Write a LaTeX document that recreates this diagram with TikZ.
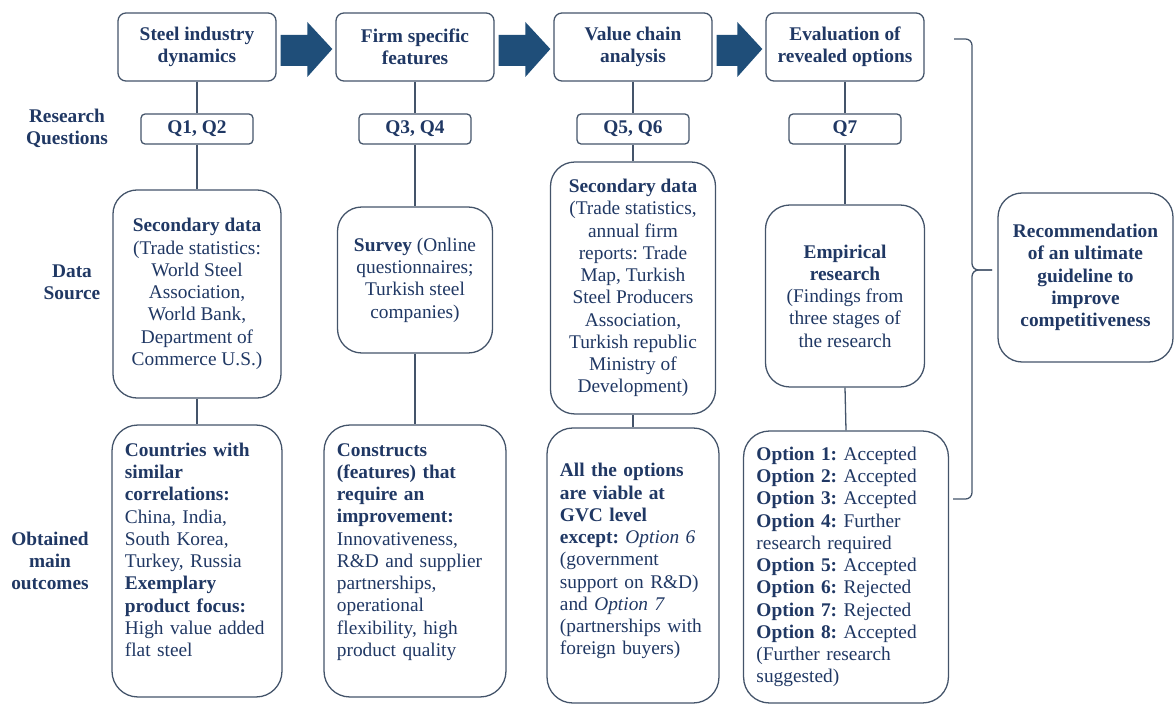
\documentclass[tikz,border=0pt]{standalone}
\usepackage{fontspec}
\setmainfont{Liberation Serif}
\usetikzlibrary{calc}
\frenchspacing

\definecolor{navy}{HTML}{203864}
\definecolor{frame}{HTML}{44546A}
\definecolor{flow}{HTML}{1F4E79}

\begin{document}
\begin{tikzpicture}[
  x=0.62pt, y=-0.62pt,
  every node/.style={text=navy, font=\fontsize{12pt}{13.8pt}\selectfont},
  box/.style={draw=frame, line width=0.8pt, fill=white, align=center},
  stage/.style={box, rounded corners=5pt, minimum width=98pt, minimum height=42.2pt,
    font=\fontsize{12pt}{13.8pt}\selectfont\bfseries},
  qbox/.style={box, rounded corners=2.5pt, minimum width=69.4pt, minimum height=18.6pt,
    inner sep=0pt, font=\fontsize{12pt}{13.8pt}\selectfont\bfseries},
  source/.style={box, rounded corners=15pt},
  outcome/.style={box, rounded corners=16pt, align=left, inner xsep=8pt},
  rowlabel/.style={align=center, font=\fontsize{12pt}{13.8pt}\selectfont\bfseries},
  link/.style={draw=frame, line width=0.8pt},
  blockarrow/.style={fill=flow}
]
  \useasboundingbox (0,0) rectangle (1175,705);

  % row labels
  \node[rowlabel] (lblq) at (67,128) {Research\\Questions};
  \node[rowlabel] (lbls) at (72,282) {Data\\Source};
  \node[rowlabel] (lblo) at (50,561) {Obtained\\main\\outcomes};

  % stages
  \node[stage] (top1) at (197,47) {Steel industry\\dynamics};
  \node[stage] (top2) at (415,47) {Firm specific\\features};
  \node[stage] (top3) at (633,47) {Value chain\\analysis};
  \node[stage] (top4) at (845,47) {Evaluation of\\revealed options};

  % research questions
  \node[qbox] (q1) at (197,129) {Q1, Q2};
  \node[qbox] (q2) at (415,129) {Q3, Q4};
  \node[qbox] (q3) at (633,129) {Q5, Q6};
  \node[qbox] (q4) at (845,129) {Q7};

  % data sources
  \node[source, minimum width=104.2pt, minimum height=129pt] (ds1) at (197,294)
    {\textbf{Secondary data}\\(Trade statistics:\\World Steel\\Association,\\World Bank,\\Department of\\Commerce U.S.)};
  \node[source, minimum width=96.1pt, minimum height=90.5pt] (ds2) at (415,280)
    {\textbf{Survey} (Online\\questionnaires;\\Turkish steel\\companies)};
  \node[source, minimum width=102.3pt, minimum height=156.2pt] (ds3) at (633,288)
    {\textbf{Secondary data}\\(Trade statistics,\\annual firm\\reports: Trade\\Map, Turkish\\Steel Producers\\Association,\\Turkish republic\\Ministry of\\Development)};
  \node[source, minimum width=98.6pt, minimum height=112.8pt] (ds4) at (845,296)
    {\textbf{Empirical}\\\textbf{research}\\(Findings from\\three stages of\\the research};

  % outcomes
  \node[outcome, text width=89.4pt, minimum height=168.6pt] (out1) at (197,561)
    {\textbf{Countries with}\\\textbf{similar}\\\textbf{correlations:}\\China, India,\\South Korea,\\Turkey, Russia\\\textbf{Exemplary}\\\textbf{product focus:}\\High value added\\flat steel\\\mbox{}};
  \node[outcome, text width=96.8pt, minimum height=168.6pt] (out2) at (415,561)
    {\textbf{Constructs}\\\textbf{(features) that}\\\textbf{require an}\\\textbf{improvement:}\\Innovativeness,\\R\&D and supplier\\partnerships,\\operational\\flexibility, high\\product quality\\\mbox{}};
  \node[outcome, text width=90.6pt, minimum height=170.5pt] (out3) at (633,565.5)
    {\textbf{All the options}\\\textbf{are viable at}\\\textbf{GVC level}\\\textbf{except:} \textit{Option 6}\\(government\\support on R\&D)\\and \textit{Option 7}\\(partnerships with\\foreign buyers)\\[-6pt]\mbox{}};
  \node[outcome, text width=111pt, minimum height=168.6pt] (out4) at (846,567)
    {\textbf{Option 1:} Accepted\\\textbf{Option 2:} Accepted\\\textbf{Option 3:} Accepted\\\textbf{Option 4:} Further\\research required\\\textbf{Option 5:} Accepted\\\textbf{Option 6:} Rejected\\\textbf{Option 7:} Rejected\\\textbf{Option 8:} Accepted\\(Further research\\suggested)};

  % final recommendation
  \node[source, minimum width=108.5pt, minimum height=104.8pt,
    font=\fontsize{12pt}{13.8pt}\selectfont\bfseries] (rec) at (1085.5,277.5)
    {Recommendation\\of an ultimate\\guideline to\\improve\\competitiveness};

  % vertical links in each column
  \foreach \i in {1,...,4} {
    \draw[link] (top\i.south) -- (q\i.north);
    \draw[link] (q\i.south) -- (ds\i.north);
    \draw[link] (ds\i.south) -- (out\i.north);
  }

  % block arrows between stages
  \foreach \a/\b in {top1/top2,top2/top3,top3/top4}
    \fill[blockarrow] ($(\a.east)+(4,-12)$) -- ($(\b.west)+(-28,-12)$)
      -- ($(\b.west)+(-28,-25)$) -- ($(\b.west)+(-3,2)$)
      -- ($(\b.west)+(-28,30)$) -- ($(\b.west)+(-28,19)$)
      -- ($(\a.east)+(4,19)$) -- cycle;

  % brace towards the recommendation
  \coordinate (bracetop) at (954,39);
  \coordinate (bracebot) at (953,499);
  \coordinate (bracemid) at (972,270);
  \coordinate (bracetip) at (992,270);
  \draw[link, rounded corners=4pt] (bracetop) -| (bracemid) -- (bracetip);
  \draw[link, rounded corners=4pt] (bracebot) -| (bracemid) -- (bracetip);
\end{tikzpicture}
\end{document}
